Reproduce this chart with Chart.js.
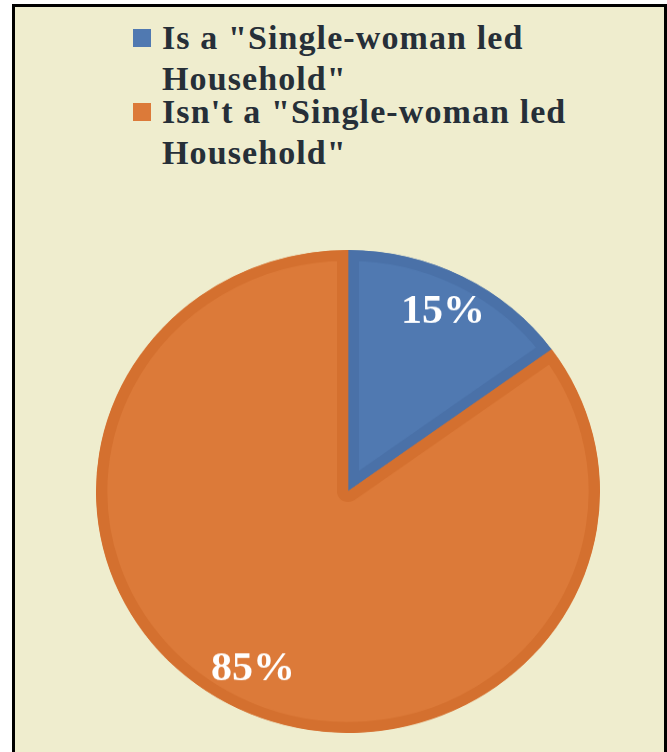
<!DOCTYPE html>
<html>
<head>
<meta charset="utf-8">
<script src="https://cdn.jsdelivr.net/npm/chart.js@4/dist/chart.umd.min.js"></script>
<style>
  html, body { margin: 0; padding: 0; background: #fff; }
  body { width: 667px; height: 752px; overflow: hidden; position: relative; }
  .frame {
    position: absolute; left: 12px; top: 4px; width: 649px; height: 760px;
    background: #efedce;
    border: 3px solid #000; border-bottom: none;
  }
  #legend {
    position: absolute; left: 133px; top: 17px; width: 470px;
    font-family: "Liberation Serif", "Times New Roman", serif;
    font-weight: bold; font-size: 34px; line-height: 41px;
    letter-spacing: 1.1px; color: #262f38;
  }
  #legend ul { list-style: none; margin: 0; padding: 0; }
  #legend li { display: flex; align-items: flex-start; }
  #legend li + li { margin-top: -8px; }
  #legend .box { flex: none; width: 18px; height: 18px; margin-top: 12px; margin-right: 11px; }
  #legend .txt { width: 420px; }
  .pie {
    position: absolute; left: 96px; top: 250px; width: 504px; height: 504px;
    transform: scaleY(0.958); transform-origin: 0 0;
  }
</style>
</head>
<body>
<div class="frame"></div>
<div id="legend"></div>
<div class="pie"><canvas id="myChart"></canvas></div>
<script>
const labels = ['Is a "Single-woman led Household"', 'Isn\'t a "Single-woman led Household"']
const values = [15, 85] // percent
const fillColors = ['#5079b1', '#dc7a39']
const edgeColors = ['#4a71a8', '#d4702f']

// legend drawn as html so the long labels can wrap
const htmlLegend = {
  id: 'htmlLegend',
  afterUpdate(chart) {
    const box = document.getElementById('legend')
    box.innerHTML = ''
    const ul = document.createElement('ul')
    chart.options.plugins.legend.labels.generateLabels(chart).forEach(item => {
      const li = document.createElement('li')
      const sw = document.createElement('span')
      sw.className = 'box'
      sw.style.background = item.fillStyle
      const tx = document.createElement('span')
      tx.className = 'txt'
      tx.textContent = item.text
      li.appendChild(sw)
      li.appendChild(tx)
      ul.appendChild(li)
    })
    box.appendChild(ul)
  }
}

// percent labels inside each slice
const sliceLabels = {
  id: 'sliceLabels',
  afterDatasetsDraw(chart) {
    const ctx = chart.ctx
    const meta = chart.getDatasetMeta(0)
    ctx.save()
    ctx.font = 'bold 42px "Liberation Serif", "Times New Roman", serif'
    ctx.fillStyle = '#ffffff'
    ctx.textAlign = 'center'
    ctx.textBaseline = 'middle'
    meta.data.forEach((arc, i) => {
      const p = arc.getProps(['x', 'y', 'startAngle', 'endAngle', 'outerRadius'], true)
      const mid = (p.startAngle + p.endAngle) / 2
      const r = p.outerRadius * 0.83
      ctx.fillText(values[i] + '%', p.x + Math.cos(mid) * r, p.y + Math.sin(mid) * r)
    })
    ctx.restore()
  }
}

const ctx = document.getElementById('myChart');
new Chart(ctx, {
    type: 'pie',
    data: {
      labels: labels,
      datasets: [{
        data: values,
        backgroundColor: fillColors,
        borderColor: edgeColors,
        borderWidth: 11,
        borderAlign: 'inner',
        hoverBorderWidth: 0
      }]
    },
    options: {
        animation: false,
        responsive: true,
        maintainAspectRatio: false,
        events: [],
        layout: { padding: 0 },
        plugins: {
          legend: { display: false },
          tooltip: { enabled: false }
        }
    },
    plugins: [htmlLegend, sliceLabels]
});
</script>
</body>
</html>
